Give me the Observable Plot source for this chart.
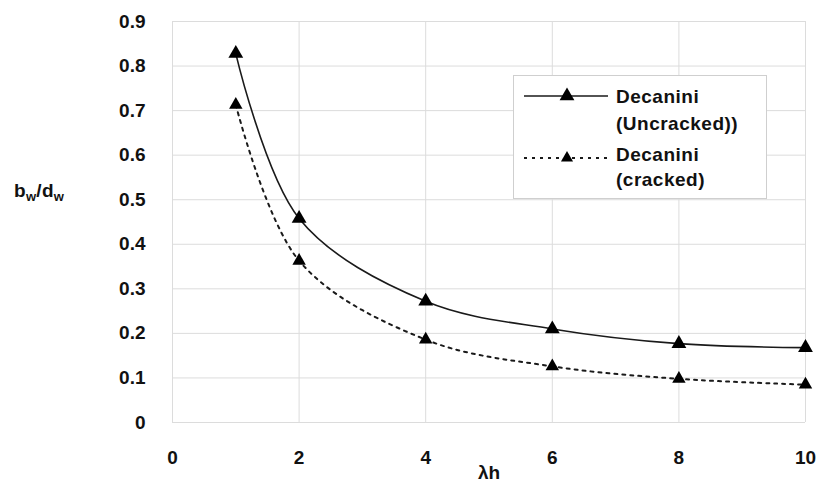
<!DOCTYPE html>
<html>
<head>
<meta charset="utf-8">
<script src="https://cdn.jsdelivr.net/npm/d3@7"></script>
<script src="https://cdn.jsdelivr.net/npm/@observablehq/plot@0.6"></script>
<style>
  html, body { margin: 0; padding: 0; background: #fff; }
  #wrap { position: relative; width: 818px; height: 484px; font-family: "Liberation Sans", Arial, sans-serif; }
  #ylab { position: absolute; left: 14px; top: 180px; font-weight: bold; font-size: 19px; color: #111; letter-spacing: 0.3px; }
  #ylab sub { font-size: 13px; vertical-align: -4px; }
  #legend { position: absolute; left: 513px; top: 75px; width: 254px; height: 124px; background: #fff; border: 1px solid #cfcfcf; box-sizing: border-box; }
  #legend svg { position: absolute; left: 0; top: 0; }
</style>
</head>
<body>
<div id="wrap">
  <div id="chart"></div>
  <div id="ylab">b<sub>w</sub>/d<sub>w</sub></div>
  <div id="legend"></div>
</div>
<script>
const lambdaH = [1, 2, 4, 6, 8, 10];
const uncracked = [0.828, 0.458, 0.272, 0.21, 0.177, 0.168];
const cracked = [0.713, 0.363, 0.186, 0.126, 0.098, 0.085];
const xTicks = [0, 2, 4, 6, 8, 10];
const yTicks = [0, 0.1, 0.2, 0.3, 0.4, 0.5, 0.6, 0.7, 0.8, 0.9];
const seriesNames = [["Decanini", "(Uncracked))"], ["Decanini", "(cracked)"]];

const dataU = lambdaH.map((x, i) => ({x, y: uncracked[i]}));
const dataC = lambdaH.map((x, i) => ({x, y: cracked[i]}));
const fmtY = d => d === 0 ? "0" : d3.format(".1f")(d);

const chart = Plot.plot({
  width: 818,
  height: 484,
  marginLeft: 172,
  marginRight: 13,
  marginTop: 21,
  marginBottom: 62,
  style: {fontFamily: "'Liberation Sans', Arial, sans-serif", fontSize: "19px", fontWeight: "bold", color: "#111", background: "#fff"},
  x: {domain: [0, 10]},
  y: {domain: [0, 0.9]},
  marks: [
    Plot.gridX(xTicks, {stroke: "#dcdcdc", strokeOpacity: 1, strokeWidth: 1}),
    Plot.gridY(yTicks, {stroke: "#dcdcdc", strokeOpacity: 1, strokeWidth: 1}),
    Plot.line(dataU, {x: "x", y: "y", curve: "catmull-rom", stroke: "#1a1a1a", strokeWidth: 1.6}),
    Plot.line(dataC, {x: "x", y: "y", curve: "catmull-rom", stroke: "#1a1a1a", strokeWidth: 2, strokeDasharray: "3,5"}),
    Plot.dot(dataU, {x: "x", y: "y", symbol: "triangle", fill: "#000", r: 5.5}),
    Plot.dot(dataC, {x: "x", y: "y", symbol: "triangle", fill: "#000", r: 5}),
    Plot.axisX({ticks: xTicks, tickSize: 0, tickPadding: 28, label: "λh", labelAnchor: "center", labelArrow: "none", labelOffset: 56}),
    Plot.axisY({ticks: yTicks, tickSize: 0, tickPadding: 27, label: null, tickFormat: fmtY})
  ]
});
document.getElementById("chart").appendChild(chart);

// Legend
const lg = d3.select("#legend").append("svg").attr("width", 254).attr("height", 124);
const rows = [
  {lines: seriesNames[0], dash: null, r: 5.5, ly: 20, ty: [27, 54]},
  {lines: seriesNames[1], dash: "3,5", r: 4.5, ly: 82, ty: [85, 110]}
];
rows.forEach(row => {
  lg.append("line").attr("x1", 10).attr("x2", 94).attr("y1", row.ly).attr("y2", row.ly)
    .attr("stroke", "#1a1a1a").attr("stroke-width", row.dash ? 2 : 1.4)
    .attr("stroke-dasharray", row.dash);
  lg.append("path").attr("d", d3.symbol(d3.symbolTriangle, Math.PI * row.r * row.r)())
    .attr("transform", `translate(53,${row.ly})`).attr("fill", "#000");
  row.lines.forEach((t, j) => {
    lg.append("text").attr("x", 102).attr("y", row.ty[j]).text(t)
      .attr("font-family", "'Liberation Sans', Arial, sans-serif").attr("font-weight", "bold")
      .attr("font-size", 19).attr("letter-spacing", 0.5).attr("fill", "#111");
  });
});
</script>
</body>
</html>
